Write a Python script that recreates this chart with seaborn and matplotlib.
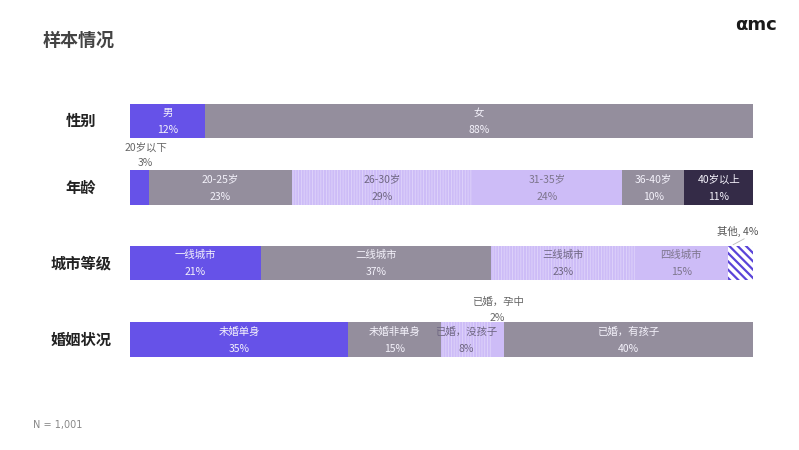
import matplotlib
matplotlib.use("Agg")
import matplotlib.pyplot as plt
import seaborn as sns
import numpy as np

sns.set_theme(style="white")
plt.rcParams['font.family'] = ['Noto Sans CJK SC', 'DejaVu Sans']
plt.rcParams['hatch.linewidth'] = 0.6

# ---- data ----
rows = ['性别', '年龄', '城市等级', '婚姻状况']
gender_labels = ['男', '女']
gender_values = [12, 88]
age_labels = ['20岁以下', '20-25岁', '26-30岁', '31-35岁', '36-40岁', '40岁以上']
age_values = [3, 23, 29, 24, 10, 11]
city_labels = ['一线城市', '二线城市', '三线城市', '四线城市', '其他']
city_values = [21, 37, 23, 15, 4]
marriage_labels = ['未婚单身', '未婚非单身', '已婚，没孩子', '已婚，孕中', '已婚，有孩子']
marriage_values = [35, 15, 8, 2, 40]
sample_note = 'N = 1,001'
title = '样本情况'

# ---- styles ----
PURPLE = '#6652e8'
GRAY = '#948e9d'
LIGHT = '#cdbcf7'
DARK = '#342b47'
styles = {
    'purple': dict(fc=PURPLE, hatch=None, ec=PURPLE, tc='#f4f2fb'),
    'gray': dict(fc=GRAY, hatch=None, ec=GRAY, tc='#f4f2fb'),
    'light': dict(fc=LIGHT, hatch=None, ec=LIGHT, tc='#7d758c'),
    'dots': dict(fc=LIGHT, hatch='||||||', ec='#dfd4fa', tc='#6f6782'),
    'dark': dict(fc=DARK, hatch=None, ec=DARK, tc='#f4f2fb'),
    'stripe': dict(fc='white', hatch='\\\\\\\\', ec='#5a44d8', tc='#555555'),
}
row_styles = [
    ['purple', 'gray'],
    ['purple', 'gray', 'dots', 'light', 'gray', 'dark'],
    ['purple', 'gray', 'dots', 'light', 'stripe'],
    ['purple', 'gray', 'dots', 'light', 'gray'],
]
row_centers = [121, 187.5, 263, 339.5]   # pixel layout
bar_h = 34.5

all_labels = [gender_labels, age_labels, city_labels, marriage_labels]
all_values = [gender_values, age_values, city_values, marriage_values]

fig = plt.figure(figsize=(7.99, 4.5), dpi=100)
ax = fig.add_axes([130 / 799, 0, 623 / 799, 1])

for r, (labs, vals, sts, yc) in enumerate(zip(all_labels, all_values, row_styles, row_centers)):
    left = 0
    for lab, v, st in zip(labs, vals, sts):
        s = styles[st]
        if st == 'stripe':
            plt.rcParams['hatch.linewidth'] = 1.6
        else:
            plt.rcParams['hatch.linewidth'] = 0.6
        sns.barplot(x=[v], y=[yc], orient='h', native_scale=True, width=bar_h,
                    left=left, color=s['fc'], saturation=1, errorbar=None, ax=ax,
                    hatch=s['hatch'], edgecolor=s['ec'], linewidth=0)
        cx = left + v / 2
        if v >= 5:
            ax.text(cx, yc - 8, lab, ha='center', va='center', fontsize=7.5,
                    color=s['tc'], zorder=5)
            ax.text(cx, yc + 9, f'{v}%', ha='center', va='center', fontsize=7.5,
                    color=s['tc'], zorder=5)
        left += v

# outside labels for small segments
ax.text(age_values[0] / 2 + 1, row_centers[1] - bar_h / 2 - 23, age_labels[0],
        ha='center', va='center', fontsize=7.5, color='#666666')
ax.text(age_values[0] / 2 + 1, row_centers[1] - bar_h / 2 - 7, f'{age_values[0]}%',
        ha='center', va='center', fontsize=7.5, color='#666666')
m_left = sum(marriage_values[:3])
ax.text(m_left + marriage_values[3] / 2, row_centers[3] - bar_h / 2 - 20, marriage_labels[3],
        ha='center', va='center', fontsize=7.5, color='#666666')
ax.text(m_left + marriage_values[3] / 2, row_centers[3] - bar_h / 2 - 4, f'{marriage_values[3]}%',
        ha='center', va='center', fontsize=7.5, color='#666666')
c_left = sum(city_values[:4])
cx = c_left + city_values[4] / 2
ytop = row_centers[2] - bar_h / 2
ax.plot([cx - 1.2, cx + 0.6], [ytop - 1, ytop - 7], color='#bbbbbb', lw=0.6)
ax.text(cx - 0.5, ytop - 14, f'{city_labels[4]}, {city_values[4]}%', ha='center', va='center',
        fontsize=7.5, color='#555555')

ax.set_xlim(0, 100)
ax.set_ylim(450, 0)
ax.axis('off')

for name, yc in zip(rows, row_centers):
    fig.text(81 / 799, 1 - yc / 450, name, ha='center', va='center', fontsize=11,
             fontweight='bold', color='#222222')

fig.text(43 / 799, 1 - 40 / 450, title, ha='left', va='center', fontsize=13,
         fontweight='bold', color='#444444')
fig.text(33 / 799, 1 - 425 / 450, sample_note, ha='left', va='center', fontsize=7,
         color='#888888', family=['DejaVu Sans'])
fig.text(756 / 799, 1 - 25 / 450, 'αmc', ha='center', va='center', fontsize=13,
         fontweight='bold', color='#1a1a1a', family=['DejaVu Sans'])

fig.savefig('out.png', dpi=100)
